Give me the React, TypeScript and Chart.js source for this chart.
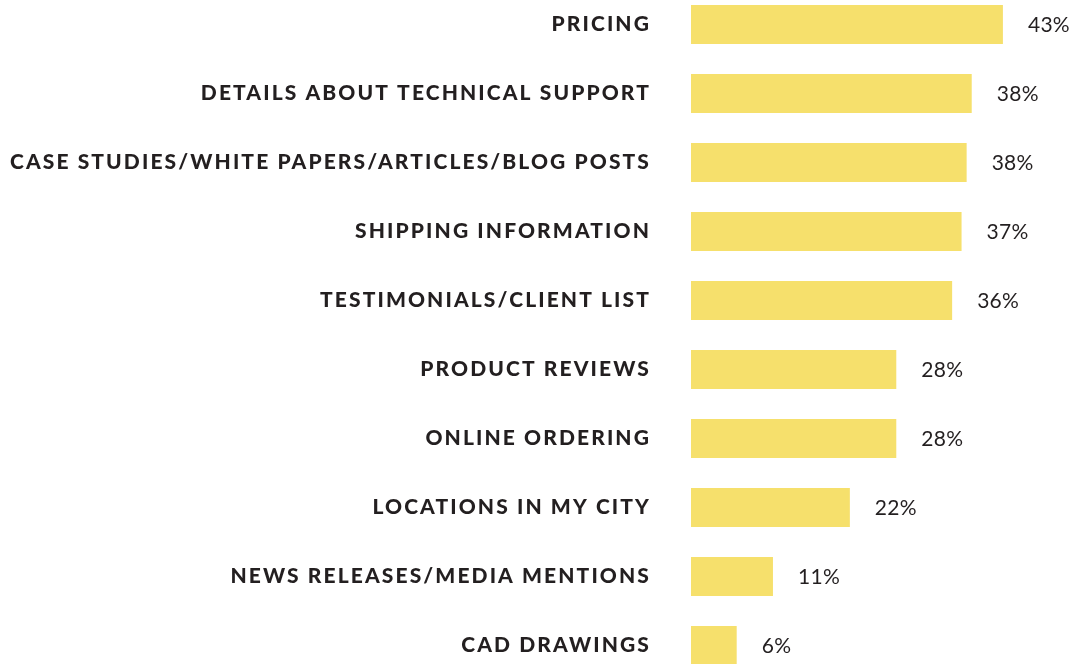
import React, { useEffect, useRef } from "react";
import { Chart, registerables } from "chart.js";

Chart.register(...registerables);

const categories = [
  "PRICING",
  "DETAILS ABOUT TECHNICAL SUPPORT",
  "CASE STUDIES/WHITE PAPERS/ARTICLES/BLOG POSTS",
  "SHIPPING INFORMATION",
  "TESTIMONIALS/CLIENT LIST",
  "PRODUCT REVIEWS",
  "ONLINE ORDERING",
  "LOCATIONS IN MY CITY",
  "NEWS RELEASES/MEDIA MENTIONS",
  "CAD DRAWINGS",
];

// bar lengths (percent)
const values = [43, 38.7, 38.0, 37.3, 36.0, 28.3, 28.3, 21.9, 11.3, 6.3];

// printed value labels
const valueLabels = ["43%", "38%", "38%", "37%", "36%", "28%", "28%", "22%", "11%", "6%"];

const BAR_COLOR = "#F6E06C";
const TEXT_COLOR = "#231F20";

export default function App() {
  const canvasRef = useRef<HTMLCanvasElement | null>(null);

  useEffect(() => {
    const canvas = canvasRef.current;
    if (!canvas) return;

    const spacingPlugin = {
      id: "spacing",
      beforeDraw(chart: any) {
        (chart.ctx as any).letterSpacing = "2.1px";
      },
    };

    const valueLabelPlugin = {
      id: "valueLabels",
      afterDatasetsDraw(chart: any) {
        const ctx = chart.ctx;
        const meta = chart.getDatasetMeta(0);
        ctx.save();
        (ctx as any).letterSpacing = "0.3px";
        ctx.font = "400 21px Lato";
        ctx.fillStyle = TEXT_COLOR;
        ctx.textAlign = "left";
        ctx.textBaseline = "middle";
        meta.data.forEach((bar: any, i: number) => {
          ctx.fillText(valueLabels[i], bar.x + 25, bar.y + 1);
        });
        ctx.restore();
      },
    };

    const chart = new Chart(canvas, {
      type: "bar",
      data: {
        labels: categories,
        datasets: [
          {
            data: values,
            backgroundColor: BAR_COLOR,
            borderWidth: 0,
            categoryPercentage: 1,
            barPercentage: 0.562,
          },
        ],
      },
      options: {
        indexAxis: "y",
        responsive: false,
        animation: false,
        layout: { padding: 0 },
        plugins: {
          legend: { display: false },
          tooltip: { enabled: false },
          title: { display: false },
        },
        scales: {
          x: {
            min: 0,
            max: 52.8,
            display: false,
            grid: { display: false },
          },
          y: {
            type: "category",
            offset: true,
            grid: { display: false, drawTicks: false },
            border: { display: false },
            ticks: {
              color: TEXT_COLOR,
              font: { family: "Lato", weight: "900", size: 21 },
              padding: 40,
              autoSkip: false,
            },
            afterFit(scale: any) {
              scale.width = 691;
              scale.paddingTop = 0;
              scale.paddingBottom = 0;
            },
          },
        },
      },
      plugins: [spacingPlugin, valueLabelPlugin],
    });

    return () => chart.destroy();
  }, []);

  return (
    <div
      style={{
        position: "fixed",
        left: 0,
        top: 0,
        width: 1074,
        height: 664,
        overflow: "hidden",
        background: "#fff",
      }}
    >
      <div style={{ position: "absolute", left: 0, top: -10, width: 1074, height: 690 }}>
        <canvas ref={canvasRef} width={1074} height={690} style={{ display: "block" }} />
      </div>
    </div>
  );
}
